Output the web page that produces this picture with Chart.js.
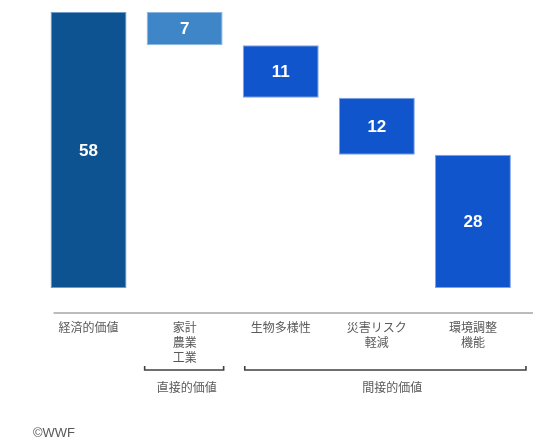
<!DOCTYPE html>
<html>
<head>
<meta charset="utf-8">
<script src="https://cdn.jsdelivr.net/npm/chart.js@4/dist/chart.umd.min.js"></script>
<style>
  html, body { margin: 0; padding: 0; background: #ffffff; }
  #wrap { width: 550px; height: 443px; position: relative; }
</style>
</head>
<body>
<div id="wrap"><canvas id="c" width="550" height="443"></canvas></div>
<script>
// ---- data ----
const categories = [
  ['経済的価値'],
  ['家計', '農業', '工業'],
  ['生物多様性'],
  ['災害リスク', '軽減'],
  ['環境調整', '機能']
];
const values = [58, 7, 11, 12, 28];
const groupLabels = ['直接的価値', '間接的価値'];
const sourceNote = '©WWF';

// ---- build floating ranges (waterfall: total, then components descending) ----
const ranges = [];
let runningTop = values[0];
ranges.push([0, values[0]]);
for (let i = 1; i < values.length; i++) {
  ranges.push([runningTop - values[i], runningTop]);
  runningTop -= values[i];
}

const barColors = ['#0d5291', '#3f86c8', '#1155cc', '#1155cc', '#1155cc'];
const barBorders = ['#6f9cc8', '#8ab5e0', '#7fa4e6', '#7fa4e6', '#7fa4e6'];
const CJK = "'Noto Sans CJK JP', 'Noto Sans', sans-serif";
const LAT = "'Liberation Sans', Arial, sans-serif";

const decor = {
  id: 'decor',
  afterDatasetsDraw(chart) {
    const ctx = chart.ctx;
    const meta = chart.getDatasetMeta(0);
    ctx.save();
    ctx.fillStyle = '#ffffff';
    ctx.font = 'bold 17px ' + LAT;
    ctx.textAlign = 'center';
    ctx.textBaseline = 'middle';
    meta.data.forEach((el, i) => {
      const p = el.getProps(['x', 'y', 'base'], true);
      ctx.fillText(String(values[i]), p.x, (p.y + p.base) / 2 + 1);
    });
    ctx.restore();
  },
  afterDraw(chart) {
    const ctx = chart.ctx;
    const ca = chart.chartArea;
    const xs = chart.scales.x;
    ctx.save();
    ctx.strokeStyle = '#a6a6a6';
    ctx.lineWidth = 1.5;
    ctx.beginPath();
    ctx.moveTo(ca.left + 13, ca.bottom);
    ctx.lineTo(ca.right + 12, ca.bottom);
    ctx.stroke();

    const by = ca.bottom + 57;
    ctx.strokeStyle = '#404040';
    ctx.lineWidth = 1.6;
    const bracket = (x1, x2) => {
      ctx.beginPath();
      ctx.moveTo(x1, by - 4);
      ctx.lineTo(x1, by);
      ctx.lineTo(x2, by);
      ctx.lineTo(x2, by - 4);
      ctx.stroke();
    };
    const c1 = xs.getPixelForValue(1);
    bracket(c1 - 40, c1 + 39);
    const c2a = xs.getPixelForValue(2);
    const c4 = xs.getPixelForValue(4);
    bracket(c2a - 36, c4 + 53);

    ctx.fillStyle = '#595959';
    ctx.font = '12px ' + CJK;
    ctx.textAlign = 'center';
    ctx.textBaseline = 'middle';
    ctx.fillText(groupLabels[0], c1 + 2, ca.bottom + 74);
    ctx.fillText(groupLabels[1], (c2a - 36 + c4 + 53) / 2 + 7, ca.bottom + 74);

    ctx.font = '13px ' + LAT;
    ctx.textAlign = 'left';
    ctx.fillText(sourceNote, 33, 433);
    ctx.restore();
  }
};

new Chart(document.getElementById('c'), {
  type: 'bar',
  data: {
    labels: categories,
    datasets: [{
      data: ranges,
      backgroundColor: barColors,
      borderColor: barBorders,
      borderWidth: 1,
      borderSkipped: false,
      barPercentage: 0.79,
      categoryPercentage: 1.0
    }]
  },
  options: {
    responsive: false,
    animation: false,
    events: [],
    layout: { padding: { left: 40.5, right: 29, top: 12, bottom: 71 } },
    plugins: { legend: { display: false }, tooltip: { enabled: false } },
    scales: {
      x: {
        grid: { display: false, drawTicks: false },
        border: { display: false },
        ticks: {
          autoSkip: false,
          maxRotation: 0,
          minRotation: 0,
          padding: 7,
          color: '#595959',
          font: { family: CJK, size: 12, lineHeight: 1.25 }
        }
      },
      y: {
        display: false,
        min: -5.25,
        max: 58
      }
    }
  },
  plugins: [decor]
});
</script>
</body>
</html>
